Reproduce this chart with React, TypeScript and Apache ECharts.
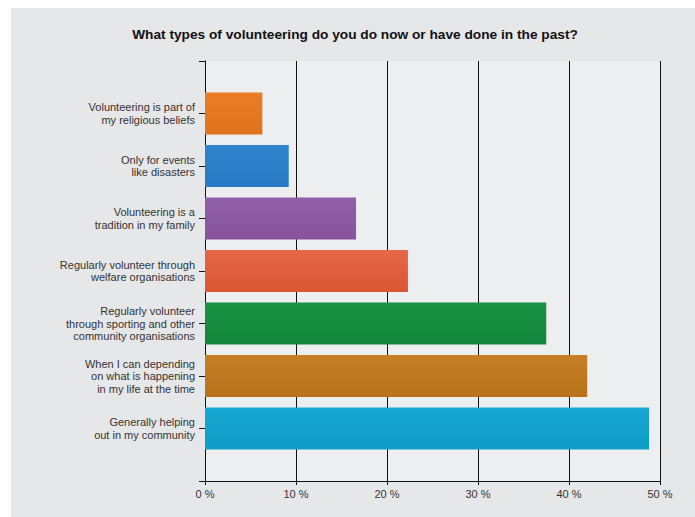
import React, { useEffect, useRef } from "react";
import * as echarts from "echarts";

const titleText = "What types of volunteering do you do now or have done in the past?";

const categories = [
  "Volunteering is part of\nmy religious beliefs",
  "Only for events\nlike disasters",
  "Volunteering is a\ntradition in my family",
  "Regularly volunteer through\nwelfare organisations",
  "Regularly volunteer\nthrough sporting and other\ncommunity organisations",
  "When I can depending\non what is happening\nin my life at the time",
  "Generally helping\nout in my community",
];

const values = [6.3, 9.2, 16.6, 22.3, 37.5, 42.0, 48.8];

const barTopColors = ["#ea7d25", "#2f84cd", "#9160a9", "#e46849", "#199243", "#c57f25", "#18a7d2"];
const barBottomColors = ["#e0721b", "#2779c3", "#86529c", "#db5634", "#12873b", "#b8711c", "#0e9cc6"];

const xMin = 0;
const xMax = 50;
const xInterval = 10;

export default function App() {
  const ref = useRef<HTMLDivElement>(null);

  useEffect(() => {
    if (!ref.current) return;
    const chart = echarts.init(ref.current, undefined, { renderer: "svg" });
    const font = '"Liberation Sans", Arial, sans-serif';

    const seriesData: any[] = ["-"];
    values.forEach((v, i) => {
      seriesData.push({
        value: v,
        itemStyle: {
          color: new echarts.graphic.LinearGradient(0, 0, 0, 1, [
            { offset: 0, color: barTopColors[i] },
            { offset: 1, color: barBottomColors[i] },
          ]),
        },
      });
    });
    seriesData.push("-");

    chart.setOption({
      animation: false,
      backgroundColor: "#ffffff",
      title: {
        text: titleText,
        left: 350,
        textAlign: "center",
        top: 22,
        textStyle: { fontFamily: font, fontWeight: "bold", fontSize: 13.7, color: "#111111" },
      },
      graphic: [
        {
          type: "rect",
          z: -10,
          silent: true,
          shape: { x: 11, y: 8, width: 684, height: 509 },
          style: { fill: "#e6e7e9" },
        },
      ],
      grid: {
        left: 205,
        width: 455,
        top: 61,
        height: 420,
        show: true,
        backgroundColor: "#eceef0",
        borderWidth: 0,
      },
      xAxis: {
        type: "value",
        min: xMin,
        max: xMax,
        interval: xInterval,
        axisLine: { show: true, lineStyle: { color: "#111111", width: 1 } },
        axisTick: { show: true, length: 4, lineStyle: { color: "#111111" } },
        axisLabel: {
          formatter: "{value} %",
          margin: 7,
          fontFamily: font,
          fontSize: 11,
          color: "#333333",
        },
        splitLine: { show: true, lineStyle: { color: "#111111", width: 1 } },
      },
      yAxis: {
        type: "category",
        inverse: true,
        boundaryGap: false,
        data: ["", ...categories, ""],
        axisLine: { show: true, lineStyle: { color: "#111111", width: 1 } },
        axisTick: { show: true, length: 6, lineStyle: { color: "#111111" } },
        axisLabel: {
          margin: 10,
          fontFamily: font,
          fontSize: 11,
          lineHeight: 12.5,
          color: "#333333",
          align: "right",
        },
        splitLine: { show: false },
      },
      series: [
        {
          type: "bar",
          barWidth: 42,
          data: seriesData,
        },
      ],
    });

    return () => chart.dispose();
  }, []);

  return (
    <div
      ref={ref}
      style={{ position: "absolute", left: 0, top: 0, width: 695, height: 517 }}
    />
  );
}
